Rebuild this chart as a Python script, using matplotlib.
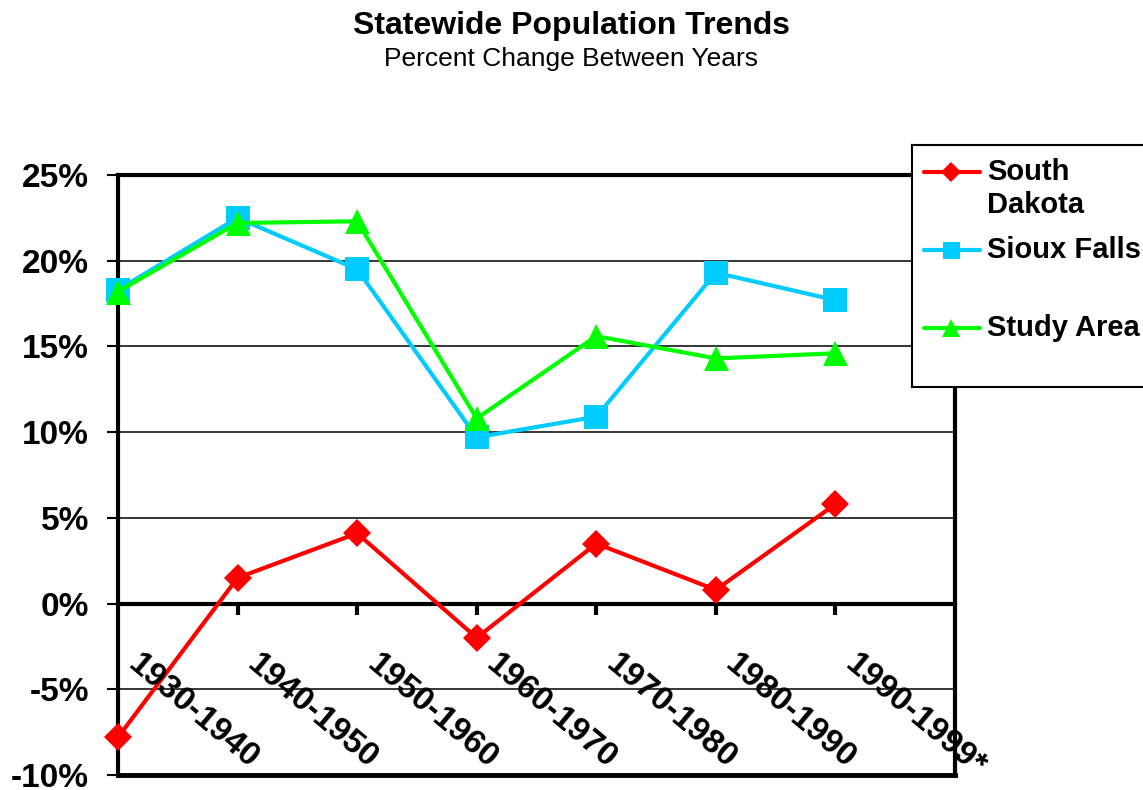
import numpy as np
import matplotlib
matplotlib.use("Agg")
from matplotlib import pyplot as plt
from matplotlib.lines import Line2D

periods = ["1930-1940", "1940-1950", "1950-1960", "1960-1970",
           "1970-1980", "1980-1990", "1990-1999*"]
south_dakota = [-7.8, 1.5, 4.1, -2.0, 3.5, 0.8, 5.8]
sioux_falls = [18.3, 22.5, 19.5, 9.7, 10.9, 19.3, 17.7]
study_area = [18.2, 22.2, 22.3, 10.8, 15.6, 14.3, 14.6]

series_names = ["South\nDakota", "Sioux Falls", "Study Area"]
series_values = [south_dakota, sioux_falls, study_area]
series_colors = ["#FF0000", "#00CCFF", "#00FF00"]
series_markers = ["D", "s", "^"]
series_msize = [14, 17, 18]

yticks = [-10, -5, 0, 5, 10, 15, 20, 25]

plt.rcParams['font.family'] = ['Liberation Sans', 'DejaVu Sans']

W, H = 1143, 790
fig = plt.figure(figsize=(W / 100, H / 100), dpi=100)

fig.text(0.5, 1 - 26 / H, "Statewide Population Trends", ha="center", va="center",
         fontsize=23, fontweight="bold")
fig.text(0.5, 1 - 59 / H, "Percent Change Between Years", ha="center", va="center",
         fontsize=19)

ax = fig.add_axes([118 / W, 1 - 775 / H, (955 - 118) / W, (775 - 175) / H])
x = np.arange(len(periods))

for vals, col, mk, ms in zip(series_values, series_colors, series_markers, series_msize):
    ax.plot(x, vals, color=col, lw=3, marker=mk, markersize=ms,
            markeredgewidth=0, clip_on=False, zorder=5)

ax.set_xlim(0, len(periods))
ax.set_ylim(-10, 25)
ax.set_yticks(yticks)
ax.set_yticklabels([f"{t}%" for t in yticks], fontsize=24, fontweight="bold")
ax.tick_params(axis="y", direction="out", length=8, width=1.5, pad=13)
for t in yticks:
    if t not in (-10, 0, 25):
        ax.axhline(t, color="black", lw=1.1, zorder=1)

# category axis sits on the zero line
ax.spines["bottom"].set_position(("data", 0))
ax.spines["bottom"].set_linewidth(3)
ax.set_xticks(x[1:])
ax.set_xticklabels([])
ax.tick_params(axis="x", direction="out", length=8, width=3)
for s in ["left", "right", "top"]:
    ax.spines[s].set_linewidth(3)
ax.axhline(-10, color="black", lw=3.5, clip_on=False, zorder=2)

for i, lab in enumerate(periods):
    ax.text(i + 0.2, -2.6, lab, rotation=-40, rotation_mode="anchor",
            ha="left", va="top", fontsize=24, fontweight="bold", clip_on=False, zorder=6)

# legend box
lax = fig.add_axes([912 / W, 1 - 387 / H, (W - 912) / W, (387 - 145) / H])
lax.set_xlim(912, W)
lax.set_ylim(387, 145)
lax.set_xticks([])
lax.set_yticks([])
lax.set_facecolor("white")
for s in lax.spines.values():
    s.set_linewidth(1.5)
lax.spines["right"].set_visible(False)
leg_y = [172, 250, 328]
for yy, name, col, mk, ms in zip(leg_y, series_names, series_colors, series_markers, series_msize):
    lax.add_line(Line2D([924, 980], [yy, yy], color=col, lw=3, solid_capstyle="round"))
    lax.add_line(Line2D([951], [yy], color=col, marker=mk, markersize=ms * 0.72,
                        markeredgewidth=0))
    lax.text(987, yy - 14, name, ha="left", va="top", fontsize=21,
             fontweight="bold", linespacing=1.25)

fig.savefig("out.png", dpi=100)
